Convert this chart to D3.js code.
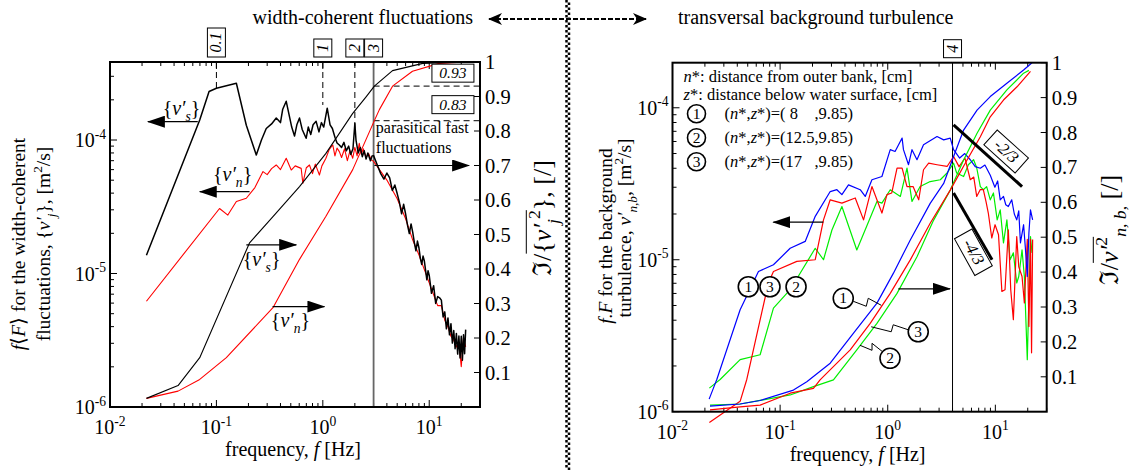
<!DOCTYPE html>
<html><head><meta charset="utf-8">
<script src="https://cdn.jsdelivr.net/npm/d3@7"></script>
<style>
body{margin:0;background:#fff}
text{font-family:"Liberation Serif","Times New Roman",serif;fill:#000}
</style></head>
<body><svg id="c" width="1143" height="470"></svg>
<script>
// ---------------- DATA ----------------
const freqDomain = [0.01, 30];
const decadeTicks = [0.01, 0.1, 1, 10];
const decadeExp = ["-2", "-1", "0", "1"];
const psdTicks = [1e-6, 1e-5, 1e-4];
const psdExp = ["-6", "-5", "-4"];
const fracTicks = [0.1,0.2,0.3,0.4,0.5,0.6,0.7,0.8,0.9,1];
const fracLabels = ["0.1","0.2","0.3","0.4","0.5","0.6","0.7","0.8","0.9","1"];

// left panel: spectra (left axis) of {v's} (black) and {v'n} (red)
const specS = [[0.022,1.37e-5],[0.0697,1.41e-4],[0.0853,2.31e-4],[0.1,2.44e-4],[0.154,2.66e-4],[0.191,1.29e-4],[0.237,7.72e-5],[0.265,1.0e-4],[0.294,1.22e-4],[0.33,1.32e-4],[0.365,1.46e-4],[0.40,1.35e-4],[0.42,1.7e-4],[0.453,1.95e-4],[0.49,1.45e-4],[0.51,1.25e-4],[0.542,1.07e-4],[0.57,1.3e-4],[0.604,1.46e-4],[0.64,1.2e-4],[0.697,1.03e-4],[0.73,1.25e-4],[0.77,1.1e-4],[0.81,1.3e-4],[0.865,1.38e-4],[0.92,1.15e-4],[0.97,1.35e-4],[1.02,1.25e-4],[1.10,1.73e-4],[1.17,1.3e-4],[1.23,1.22e-4],[1.30,1.05e-4],[1.36,9.5e-5],[1.43,9.18e-5],[1.5,8.8e-5],[1.58,9.6e-5],[1.66,8.3e-5],[1.75,9.0e-5],[1.83,7.8e-5],[1.92,8.6e-5],[2.0,1.33e-4],[2.05,1.0e-4],[2.15,8.0e-5],[2.25,8.8e-5],[2.35,7.5e-5],[2.45,8.3e-5],[2.55,7.2e-5],[2.65,8.0e-5],[2.8,7.0e-5],[2.9,7.6e-5],[3.0,7.64e-5],[3.25,6.5e-5],[3.5,5.6e-5],[3.75,5.1e-5],[4.0,5.66e-5],[4.25,5.2e-5],[4.5,4.19e-5],[4.75,4.6e-5],[5.0,3.97e-5],[5.25,3.4e-5],[5.5,2.8e-5],[5.75,3.3e-5],[6.0,2.79e-5],[6.25,2.3e-5],[6.5,1.99e-5],[6.75,2.35e-5],[7.0,2.03e-5],[7.25,1.7e-5],[7.5,1.48e-5],[7.75,1.75e-5],[8.0,1.56e-5],[8.25,1.3e-5],[8.5,1.17e-5],[8.75,1.35e-5],[9.0,1.24e-5],[9.25,1.05e-5],[9.5,8.97e-6],[9.75,1.05e-5],[10,9.68e-6],[10.5,7.1e-6],[11,8.11e-6],[11.5,5.97e-6],[12,6.71e-6],[12.5,6.58e-6],[13,6.32e-6],[13.5,4.72e-6],[14,5.16e-6],[14.5,3.85e-6],[15,4.65e-6],[15.5,3.47e-6],[16,4.21e-6],[16.5,3.01e-6],[17,3.74e-6],[17.5,2.73e-6],[18,3.56e-6],[18.5,2.49e-6],[19,3.4e-6],[19.5,2.33e-6],[20,3.39e-6],[20.5,2.24e-6],[21,3.47e-6],[21.5,2.51e-6],[22,3.8e-6]];
const specN = [[0.022,6.2e-6],[0.107,3.07e-5],[0.128,2.74e-5],[0.154,3.46e-5],[0.191,3.66e-5],[0.23,4.4e-5],[0.274,5.8e-5],[0.30,5.5e-5],[0.33,6.1e-5],[0.365,6.5e-5],[0.40,6.0e-5],[0.453,7.3e-5],[0.505,5.96e-5],[0.55,6.4e-5],[0.626,6.13e-5],[0.649,4.74e-5],[0.70,6.2e-5],[0.749,6.5e-5],[0.80,5.6e-5],[0.85,6.6e-5],[0.929,5.47e-5],[0.98,6.4e-5],[1.07,7.3e-5],[1.15,8.5e-5],[1.24,9.18e-5],[1.30,7.6e-5],[1.36,8.7e-5],[1.43,8.18e-5],[1.5,7.4e-5],[1.6,8.6e-5],[1.7,7.0e-5],[1.8,8.3e-5],[1.91,7.3e-5],[2.0,8.8e-5],[2.1,7.6e-5],[2.2,9.45e-5],[2.3,7.8e-5],[2.4,8.6e-5],[2.55,7.4e-5],[2.7,7.9e-5],[2.85,7.1e-5],[3,6.92e-5],[4,5.01e-5],[5,3.63e-5],[6,2.57e-5],[7,1.78e-5],[8,1.38e-5],[9,1.07e-5],[10,8.51e-6],[11,6.92e-6],[12,5.75e-6],[13,5.75e-6],[14,4.47e-6],[15,3.98e-6],[16,3.39e-6],[17,3.16e-6],[18,2.82e-6],[19,3.02e-6],[20,2.0e-6],[21,3.31e-6],[22,2.82e-6]];
// left panel: cumulative (right axis)
const cumS = [[0.022,0.025],[0.0436,0.062],[0.0697,0.143],[0.205,0.476],[0.34,0.552],[0.604,0.639],[1.07,0.735],[1.91,0.851],[2.55,0.899],[3.05,0.93],[4.52,0.975],[8.7,0.996],[22,1.0]];
const cumN = [[0.022,0.025],[0.0436,0.046],[0.0697,0.08],[0.124,0.143],[0.34,0.288],[0.604,0.428],[1.07,0.553],[1.91,0.688],[3.05,0.83],[3.4,0.862],[4.52,0.93],[6.96,0.973],[12.4,0.996],[22,1.0]];
const markFreqL = [0.1, 1, 2, 3];
const markTextL = ["0.1", "1", "2", "3"];
const guideEnds = [2.44e-4, 1.83e-4, 1.2e-4];
const levelVals = [0.93, 0.83];
const levelText = ["0.93", "0.83"];

// right panel: spectra (left axis) at three points
const spec1 = [[0.0219,1.21e-6],[0.024,1.43e-6],[0.0258,1.63e-6],[0.0425,4.69e-6],[0.0629,8.37e-6],[0.0867,9.27e-6],[0.124,1.19e-5],[0.171,1.32e-5],[0.212,1.93e-5],[0.292,2.81e-5],[0.337,2.89e-5],[0.375,2.68e-5],[0.432,3.11e-5],[0.555,2.89e-5],[0.618,2.61e-5],[0.713,3.36e-5],[0.883,3.53e-5],[1.055,5.3e-5],[1.17,5.16e-5],[1.36,6.32e-5],[1.4,5.3e-5],[1.56,4.22e-5],[1.68,5.3e-5],[1.87,4.55e-5],[2.15,5.71e-5],[2.87,6.47e-5],[3.31,6.15e-5],[3.81,6.32e-5],[4.09,5.3e-5],[4.66,4.67e-5],[5.2,5.0e-5],[5.85,4.55e-5],[6.5,4.1e-5],[7.25,4.0e-5],[8.0,4.2e-5],[8.97,3.6e-5],[9.9,3.0e-5],[10.5,3.3e-5],[11.1,2.48e-5],[11.9,2.61e-5],[12.5,2.3e-5],[13.2,2.24e-5],[14.2,2.48e-5],[15.0,2.0e-5],[15.8,1.83e-5],[16.5,2.1e-5],[17.1,1.29e-5],[18.3,1.7e-5],[19.0,1.2e-5],[19.8,7.76e-6],[20.5,1.5e-5],[21.2,2.13e-5],[22.2,1.83e-5]];
const spec2 = [[0.022,1.43e-6],[0.0277,1.63e-6],[0.0425,2.2e-6],[0.0652,2.37e-6],[0.0867,4.81e-6],[0.124,6.35e-6],[0.212,1.19e-5],[0.253,1.0e-5],[0.303,1.57e-5],[0.375,2.24e-5],[0.516,1.16e-5],[0.794,2.42e-5],[0.883,2.36e-5],[1.055,2.89e-5],[1.31,2.61e-5],[1.51,4.01e-5],[1.68,2.42e-5],[2.0,3.03e-5],[2.48,3.27e-5],[3.08,3.36e-5],[3.56,3.72e-5],[4.09,4.32e-5],[4.37,3.72e-5],[5.07,3.53e-5],[5.61,4.22e-5],[6.28,4.55e-5],[6.71,4.03e-5],[7.25,3.03e-5],[7.73,2.89e-5],[8.3,3.03e-5],[8.97,2.48e-5],[9.6,2.75e-5],[10.4,1.83e-5],[11.1,2.13e-5],[11.9,1.29e-5],[12.8,1.83e-5],[13.7,1.0e-5],[14.7,1.11e-5],[15.8,7.03e-6],[16.5,7.76e-6],[17.7,1.16e-5],[18.6,7.76e-6],[19.8,2.2e-6],[20.5,5.74e-6],[21.2,1.42e-5],[21.9,1.11e-5]];
const spec3 = [[0.022,8.5e-7],[0.0425,1.17e-6],[0.049,1.63e-6],[0.0778,7.03e-6],[0.0867,8.37e-6],[0.143,9.75e-6],[0.212,1.0e-5],[0.253,1.83e-5],[0.292,2.48e-5],[0.375,2.36e-5],[0.499,2.55e-5],[0.596,1.83e-5],[0.713,3.03e-5],[0.883,2.03e-5],[0.984,2.68e-5],[1.09,2.75e-5],[1.22,4.01e-5],[1.36,4.01e-5],[1.51,3.03e-5],[1.72,3.03e-5],[1.94,2.48e-5],[2.15,3.91e-5],[2.4,4.32e-5],[2.87,4.22e-5],[3.56,4.11e-5],[4.09,4.78e-5],[4.6,4.1e-5],[5.22,4.67e-5],[5.85,3.36e-5],[6.3,3.5e-5],[6.71,2.61e-5],[7.25,2.9e-5],[7.73,2.89e-5],[8.2,2.4e-5],[8.6,2.03e-5],[9.26,1.39e-5],[9.94,1.7e-5],[10.7,1.46e-5],[11.5,6.18e-6],[12.3,6.35e-6],[13.2,1.57e-5],[13.9,6.35e-6],[14.7,4.03e-6],[15.8,1.42e-5],[16.5,9.0e-6],[17.7,7.76e-6],[18.6,5.2e-6],[19.8,1.36e-5],[20.5,3.64e-6],[21.2,1.36e-5],[21.7,2.44e-6],[22.2,1.36e-5]];
// right panel: cumulative (right axis)
const cum1 = [[0.0223,0.016],[0.0425,0.022],[0.0652,0.032],[0.133,0.062],[0.177,0.086],[0.292,0.139],[0.481,0.225],[0.794,0.311],[1.13,0.397],[1.62,0.492],[2.48,0.597],[3.31,0.654],[4.09,0.731],[5.07,0.807],[6.76,0.864],[8.97,0.903],[12.8,0.941],[18.3,0.979],[21.9,1.0]];
const cum2 = [[0.0223,0.019],[0.0425,0.022],[0.124,0.048],[0.204,0.072],[0.313,0.091],[0.516,0.177],[0.794,0.253],[1.22,0.339],[1.87,0.444],[2.67,0.549],[3.81,0.635],[5.07,0.721],[6.76,0.798],[8.97,0.864],[12.8,0.922],[18.3,0.97],[20.5,0.978]];
const cum3 = [[0.0223,0.005],[0.0425,0.014],[0.0652,0.019],[0.124,0.053],[0.204,0.067],[0.235,0.091],[0.448,0.177],[0.687,0.253],[1.055,0.339],[1.62,0.435],[2.48,0.54],[3.81,0.635],[5.46,0.721],[7.25,0.788],[8.97,0.845],[11.9,0.893],[15.9,0.931],[21.2,0.975]];
const markFreqR = 4;
const slopeLines = [{f:[4.09,17.7], v:[7.73e-5,3.03e-5], label:"-2/3", lf:12.6, lv:5.16e-5, rot:42},
                    {f:[4.09,9.31], v:[2.75e-5,1.0e-5], label:"-4/3", lf:6.25, lv:1.12e-5, rot:61}];
const legendRows = [["1"," 8    "],["2","12.5"],["3","17   "]];

// ---------------- DRAWING ----------------
const svg = d3.select("#c");
const defs = svg.append("defs");
defs.append("marker").attr("id","ah").attr("viewBox","0 0 18 12").attr("refX",17).attr("refY",6)
  .attr("markerWidth",18).attr("markerHeight",12).attr("markerUnits","userSpaceOnUse")
  .attr("orient","auto-start-reverse").append("path").attr("d","M0,0L18,6L0,12Z").attr("fill","#000");
defs.append("marker").attr("id","ah2").attr("viewBox","0 0 14 12").attr("refX",13).attr("refY",6)
  .attr("markerWidth",14).attr("markerHeight",12).attr("markerUnits","userSpaceOnUse")
  .attr("orient","auto-start-reverse").append("path").attr("d","M0,0L14,6L0,12L4,6Z").attr("fill","#000");

function rich(t, size, parts){
  let cur = 0;
  t.attr("font-size", size);
  parts.forEach(p=>{
    const s=p[0], st=p[1]||"";
    const sp=t.append("tspan").text(s);
    let target=0, fs=size;
    if(st.indexOf("b")>=0){target=size*0.3; fs=size*0.68;}
    if(st.indexOf("p")>=0){target=-size*0.42; fs=size*0.68;}
    sp.attr("font-size",fs);
    if(target!==cur) sp.attr("dy",target-cur);
    cur=target;
    if(st.indexOf("i")>=0) sp.attr("font-style","italic");
  });
  return t;
}

function panel(c){
  const x=d3.scaleLog().domain(freqDomain).range([c.x0,c.x1]);
  const y=d3.scaleLog().domain([1e-6,c.yTop]).range([c.y1,c.y0]);
  const yr=d3.scaleLinear().domain([0,1]).range([c.y1,c.y0]);
  const g=svg.append("g");
  const ax=g.append("g").attr("stroke","#000").attr("stroke-width",1);
  x.ticks().forEach(t=>{
    const major = decadeTicks.some(d=>Math.abs(d-t)/t<1e-6);
    const L = major?7:4;
    ax.append("line").attr("x1",x(t)).attr("x2",x(t)).attr("y1",c.y1).attr("y2",c.y1-L);
    ax.append("line").attr("x1",x(t)).attr("x2",x(t)).attr("y1",c.y0).attr("y2",c.y0+L);
  });
  y.ticks().forEach(t=>{
    const major = psdTicks.some(d=>Math.abs(d-t)/t<1e-6);
    const L = major?7:4;
    ax.append("line").attr("x1",c.x0).attr("x2",c.x0+L).attr("y1",y(t)).attr("y2",y(t));
  });
  fracTicks.forEach(t=>{
    ax.append("line").attr("x1",c.x1).attr("x2",c.x1-6).attr("y1",yr(t)).attr("y2",yr(t));
  });
  decadeTicks.forEach((t,i)=>{
    rich(g.append("text").attr("x",x(t)).attr("y",c.y1+27).attr("text-anchor","middle"),20,[["10",""],[decadeExp[i],"p"]]);
  });
  psdTicks.forEach((t,i)=>{
    rich(g.append("text").attr("x",c.x0-4).attr("y",y(t)+7).attr("text-anchor","end"),20,[["10",""],[psdExp[i],"p"]]);
  });
  fracTicks.forEach((t,i)=>{
    g.append("text").attr("x",c.x1+5).attr("y",yr(t)+7).attr("font-size",20.5).text(fracLabels[i]);
  });
  rich(g.append("text").attr("x",(c.x0+c.x1)/2-2).attr("y",c.y1+49).attr("text-anchor","middle"),20,[["frequency, ",""],["f","i"],[" [Hz]",""]]);
  return {x,y,yr,g,c};
}
function frame(P){
  const c=P.c;
  P.g.append("rect").attr("x",c.x0).attr("y",c.y0).attr("width",c.x1-c.x0).attr("height",c.y1-c.y0)
    .attr("fill","none").attr("stroke","#000").attr("stroke-width",2);
}
function curve(P, data, yScale, color, w){
  P.g.append("path").datum(data).attr("fill","none").attr("stroke",color).attr("stroke-width",w||1.2)
    .attr("stroke-linejoin","round")
    .attr("d",d3.line().x(d=>P.x(d[0])).y(d=>yScale(d[1])));
}
function arrow(P, f0, f1, yv, mk){
  P.g.append("line").attr("x1",P.x(f0)).attr("x2",P.x(f1)).attr("y1",P.yr(yv)).attr("y2",P.yr(yv))
    .attr("stroke","#000").attr("stroke-width",1.2).attr("marker-end","url(#"+(mk||"ah")+")");
}
function vlabel(P, f, yv, sub){
  rich(P.g.append("text").attr("x",P.x(f)).attr("y",P.yr(yv)).attr("text-anchor","middle"),20,
    [["{",""],["v′","i"],[sub,"ib"],["}",""]]);
}
function vbox(P, f, txt){
  const cx=P.x(f), bottom=P.c.y0-5;
  const len = txt.length>1 ? 29 : 18;
  P.g.append("rect").attr("x",cx-9).attr("y",bottom-len).attr("width",18).attr("height",len)
    .attr("fill","#fff").attr("stroke","#000").attr("stroke-width",1);
  P.g.append("text").attr("transform","translate("+(cx+5)+","+(bottom-len/2)+") rotate(-90)")
    .attr("text-anchor","middle").attr("font-size",16).attr("font-style","italic").text(txt);
}
function rotTitle(P, px, py, size, parts, over){
  const gg=P.g.append("g").attr("transform","translate("+px+","+py+") rotate(-90)");
  const t=rich(gg.append("text").attr("text-anchor","middle"),size,parts);
  if(over){
    const n=t.node();
    const a=n.getExtentOfChar(over[0]), b=n.getExtentOfChar(over[1]);
    gg.append("line").attr("x1",a.x).attr("x2",b.x+b.width).attr("y1",-size*0.95).attr("y2",-size*0.95)
      .attr("stroke","#000").attr("stroke-width",1);
  }
}

// ---------- LEFT PANEL ----------
const PL = panel({x0:110,x1:480,y0:62,y1:407,yTop:3.84e-4});
markFreqL.slice(0,3).forEach((f,i)=>{
  PL.g.append("line").attr("x1",PL.x(f)).attr("x2",PL.x(f)).attr("y1",PL.c.y0).attr("y2",PL.y(guideEnds[i]))
    .attr("stroke","#000").attr("stroke-width",1).attr("stroke-dasharray","6,4");
});
levelVals.forEach(v=>{
  PL.g.append("line").attr("x1",PL.x(3)).attr("x2",PL.c.x1).attr("y1",PL.yr(v)).attr("y2",PL.yr(v))
    .attr("stroke","#333").attr("stroke-width",1.2).attr("stroke-dasharray","6,4");
});
PL.g.append("line").attr("x1",PL.x(3)).attr("x2",PL.x(3)).attr("y1",PL.c.y0).attr("y2",PL.c.y1)
  .attr("stroke","#666").attr("stroke-width",1.8);
curve(PL, specN, PL.y, "#ff0000", 1.1);
curve(PL, cumN, PL.yr, "#ff0000", 1.1);
curve(PL, cumS, PL.yr, "#000", 1.1);
curve(PL, specS, PL.y, "#000", 1.5);
markFreqL.forEach((f,i)=>vbox(PL, f, markTextL[i]));
levelVals.forEach((v,i)=>{
  const cx=PL.x(16.7), cy=PL.yr(v)+(i===0?-13:-16);
  PL.g.append("rect").attr("x",cx-21).attr("y",cy-9).attr("width",42).attr("height",18)
    .attr("fill","#fff").attr("stroke","#000").attr("stroke-width",1);
  PL.g.append("text").attr("x",cx).attr("y",cy+5).attr("text-anchor","middle").attr("font-size",15.5)
    .attr("font-style","italic").text(levelText[i]);
});
arrow(PL, 0.0668, 0.0227, 0.827); vlabel(PL, 0.047, 0.846, "s");
arrow(PL, 0.205, 0.0697, 0.624); vlabel(PL, 0.142, 0.655, "n");
arrow(PL, 0.191, 0.562, 0.47); vlabel(PL, 0.266, 0.41, "s");
arrow(PL, 0.337, 1.035, 0.291); vlabel(PL, 0.497, 0.232, "n");
PL.g.append("text").attr("x",PL.x(3.15)).attr("y",PL.yr(0.793)).attr("font-size",16).text("parasitical fast");
PL.g.append("text").attr("x",PL.x(3.15)).attr("y",PL.yr(0.735)).attr("font-size",16).text("fluctuations");
arrow(PL, 3.05, 23.7, 0.70);
frame(PL);
rotTitle(PL, 25, 244, 19.5, [["f","i"],["⟨",""],["F","i"],["⟩ for the width-coherent",""]]);
rotTitle(PL, 50, 244, 19.5, [["fluctuations, {",""],["v′","i"],["j","ib"],["}, [m",""],["2","p"],["/s]",""]]);
rotTitle(PL, 551, 218, 26, [["ℑ",""],["/",""],["{",""],["v′","i"],["j","ib"],["2","p"],["}",""],[", [/]",""]], [2,6]);

// ---------- RIGHT PANEL ----------
const PR = panel({x0:672.5,x1:1046.7,y0:62.7,y1:411.7,yTop:1.98e-4});
PR.g.append("line").attr("x1",PR.x(markFreqR)).attr("x2",PR.x(markFreqR)).attr("y1",PR.c.y0).attr("y2",PR.c.y1)
  .attr("stroke","#000").attr("stroke-width",1);
curve(PR, spec2, PR.y, "#00ee00", 1.2);
curve(PR, spec3, PR.y, "#ff0000", 1.2);
curve(PR, spec1, PR.y, "#0000ff", 1.2);
curve(PR, cum2, PR.yr, "#00ee00", 1.2);
curve(PR, cum3, PR.yr, "#ff0000", 1.2);
curve(PR, cum1, PR.yr, "#0000ff", 1.2);
vbox(PR, markFreqR, "4");
slopeLines.forEach(s=>{
  PR.g.append("line").attr("x1",PR.x(s.f[0])).attr("x2",PR.x(s.f[1])).attr("y1",PR.y(s.v[0])).attr("y2",PR.y(s.v[1]))
    .attr("stroke","#000").attr("stroke-width",3);
  const gg=PR.g.append("g").attr("transform","translate("+PR.x(s.lf)+","+PR.y(s.lv)+") rotate("+s.rot+")");
  gg.append("rect").attr("x",-21).attr("y",-10).attr("width",42).attr("height",20).attr("fill","#fff")
    .attr("stroke","#000").attr("stroke-width",1);
  gg.append("text").attr("y",5).attr("text-anchor","middle").attr("font-size",16.5).attr("font-style","italic").text(s.label);
});
function circ(cx,cy,txt,r){
  PR.g.append("circle").attr("cx",cx).attr("cy",cy).attr("r",r||10).attr("fill","#fff").attr("stroke","#000").attr("stroke-width",1.6);
  PR.g.append("text").attr("x",cx).attr("y",cy+5).attr("text-anchor","middle").attr("font-size",15.5).text(txt);
}
const lg={x:PR.c.x0+11, y:PR.c.y0+19};
rich(PR.g.append("text").attr("x",lg.x).attr("y",lg.y),16.5,[["n","i"],["*: distance from outer bank, [cm]",""]]);
rich(PR.g.append("text").attr("x",lg.x).attr("y",lg.y+18),16.5,[["z","i"],["*: distance below water surface, [cm]",""]]);
legendRows.forEach((r,i)=>{
  const yy=lg.y+37+i*24;
  circ(lg.x+13, yy-5, r[0], 9);
  rich(PR.g.append("text").attr("x",lg.x+41).attr("y",yy).style("white-space","pre"),16.5,
    [["(",""],["n","i"],["*,",""],["z","i"],["*)=("+r[1]+",9.85)",""]]);
});
arrow(PR, 0.252, 0.0865, 0.543);
arrow(PR, 1.254, 3.79, 0.352);
circ(PR.x(0.0506), PR.yr(0.358), "1");
circ(PR.x(0.0805), PR.yr(0.358), "3");
circ(PR.x(0.1406), PR.yr(0.358), "2");
function zig(f, yv, txt, pts){
  const cx=PR.x(f), cy=PR.yr(yv);
  PR.g.append("polyline").attr("points",pts.map(p=>(cx+p[0])+","+(cy+p[1])).join(" "))
    .attr("fill","none").attr("stroke","#000").attr("stroke-width",1);
  circ(cx,cy,txt);
}
zig(0.386, 0.325, "1", [[10,3],[23,8],[25,0],[38,7]]);
zig(1.92, 0.229, "3", [[-10,-2],[-25,-7],[-27,0],[-47,-5]]);
zig(1.05, 0.153, "2", [[-8,-7],[-18,-15],[-18,-8],[-30,-13]]);
frame(PR);
rotTitle(PR, 612, 236, 19.5, [["f.F","i"],["  for the background",""]]);
rotTitle(PR, 631, 228, 19.5, [["turbulence, ",""],["v′","i"],["n,b","ib"],[", [m",""],["2","p"],["/s]",""]]);
rotTitle(PR, 1118, 230, 26, [["ℑ",""],["/",""],["v′","i"],["2","p"],["n, b,","ib"],["  [/]",""]], [2,4]);

// ---------- HEADER ----------
svg.append("text").attr("x",473).attr("y",24).attr("text-anchor","end").attr("font-size",20).text("width-coherent fluctuations");
svg.append("text").attr("x",678).attr("y",24).attr("font-size",20).text("transversal background turbulence");
svg.append("line").attr("x1",489).attr("x2",646).attr("y1",19).attr("y2",19).attr("stroke","#000").attr("stroke-width",2.2)
  .attr("stroke-dasharray","5,2").attr("marker-start","url(#ah2)").attr("marker-end","url(#ah2)");
svg.append("line").attr("x1",566.5).attr("x2",566.5).attr("y1",0).attr("y2",470).attr("stroke","#000").attr("stroke-width",2.5).attr("stroke-dasharray","2.5,2.5");
svg.append("line").attr("x1",569).attr("x2",569).attr("y1",2.5).attr("y2",470).attr("stroke","#000").attr("stroke-width",2.5).attr("stroke-dasharray","2.5,2.5");
</script>
</body></html>
